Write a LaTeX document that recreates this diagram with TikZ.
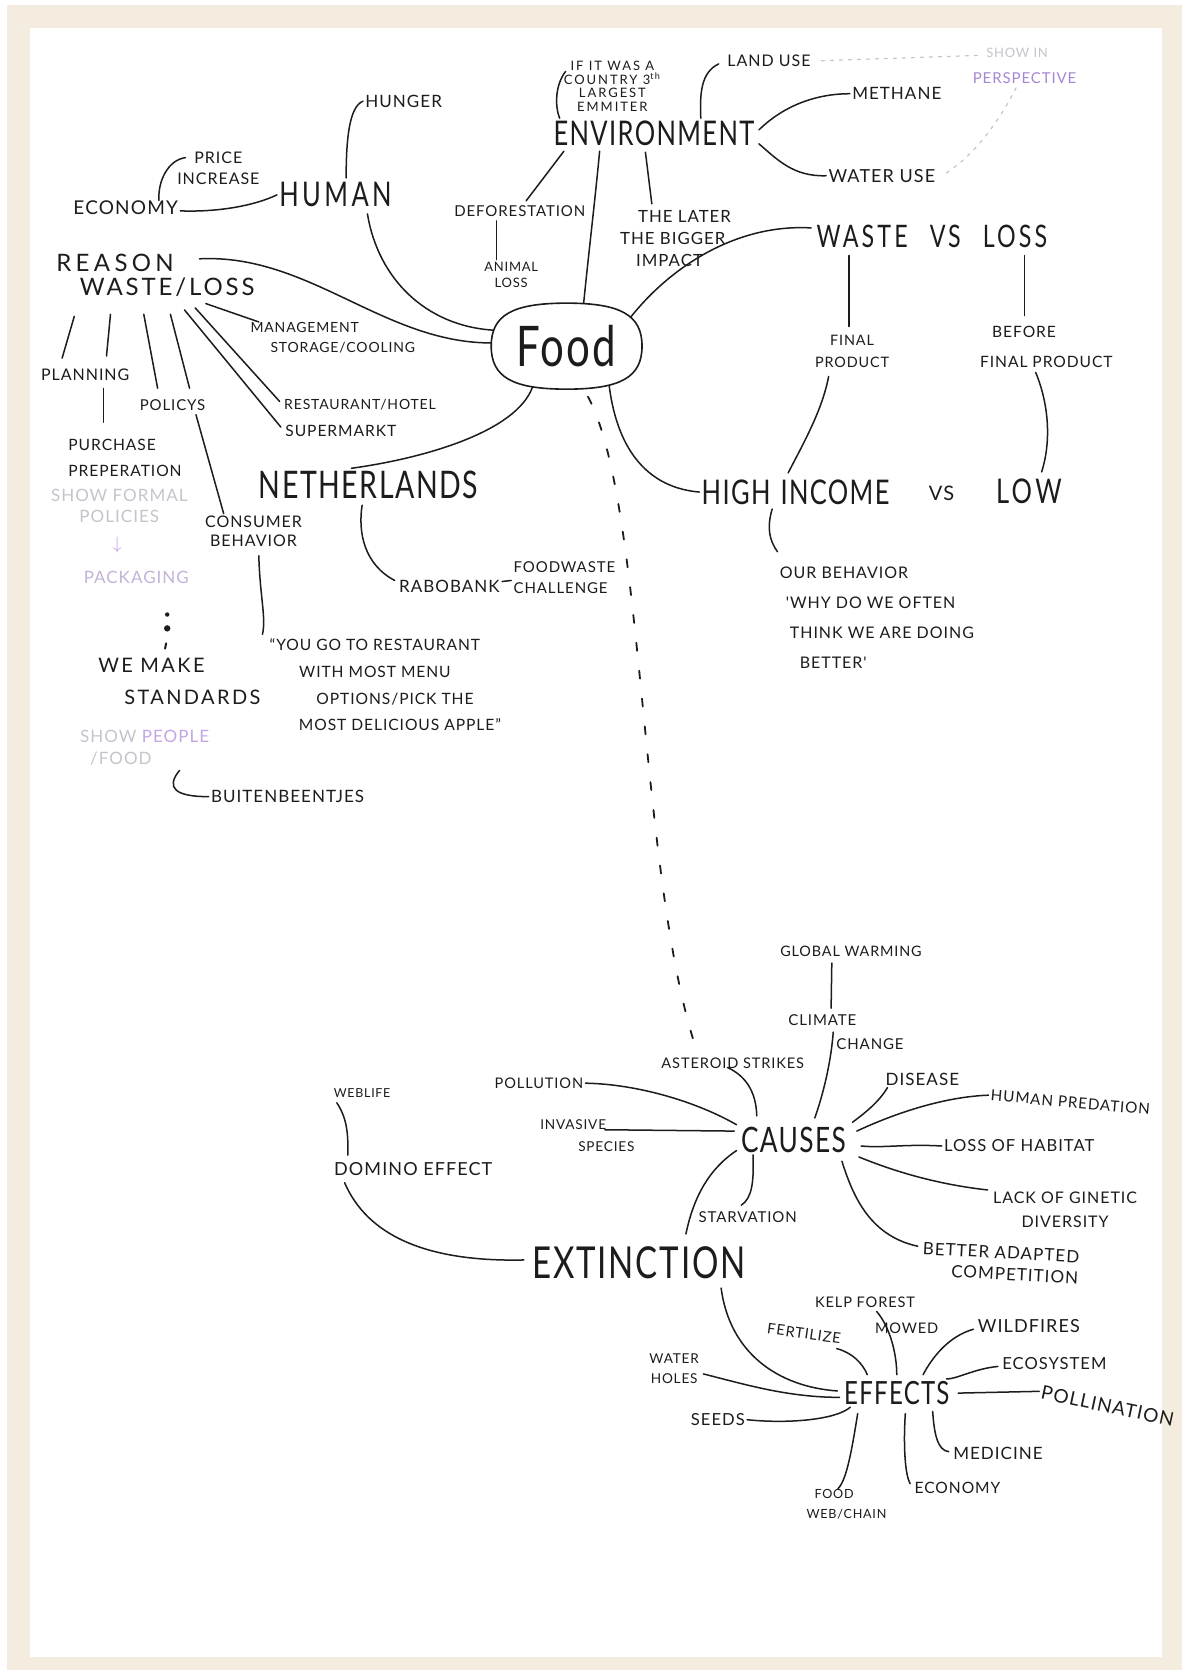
\documentclass[tikz,border=0pt]{standalone}
\usepackage{fontspec}
\usetikzlibrary{calc}
\newfontfamily\hand[LetterSpace=6]{Lato}
\newfontfamily\handn[FakeStretch=0.75,LetterSpace=4]{Lato}
\definecolor{paper}{RGB}{244,237,223}
\definecolor{ink}{RGB}{28,28,28}
\definecolor{fadegray}{RGB}{196,196,204}
\definecolor{fadepurple}{RGB}{196,166,226}
\definecolor{lilac}{RGB}{165,135,210}
\tikzset{
  fs/.style 2 args={font=\hand\fontsize{#1}{#2}\selectfont},
  ft/.style 2 args={font=\handn\fontsize{#1}{#2}\selectfont},
  spaced/.style n args={3}{font=\hand\addfontfeature{LetterSpace=#1}\fontsize{#2}{#3}\selectfont},
  spacedn/.style n args={3}{font=\handn\addfontfeature{LetterSpace=#1}\fontsize{#2}{#3}\selectfont},
  link/.style={draw=ink, line width=0.75pt, line cap=round},
  outline/.style={draw=ink, line width=0.8pt},
  faintlink/.style={draw=fadegray, line width=0.6pt, dash pattern=on 1.5pt off 3pt, line cap=round},
  bridge/.style={draw=ink, line width=0.9pt, dash pattern=on 4pt off 10pt, line cap=round},
}
\begin{document}
\begin{tikzpicture}[x=0.53245pt, y=-0.53245pt, every node/.style={text=ink, inner sep=1pt}]
\useasboundingbox (0,0) rectangle (1110,1568);
% paper and mount
\fill[paper] (0,0) rectangle (1110,1568);
\fill[white] (0,0) rectangle (1110,4.5);
\fill[white] (0,0) rectangle (6.5,1568);
\fill[white] (28.2,26.3) rectangle (1091.2,1556);

% ---------- upper map: food ----------
\node[ft={28}{30}, minimum width=75pt, minimum height=42.6pt, inner sep=0pt] (food) at (532,325) {Food};
% squarish oval round the central word
\draw[outline] (food.west)
  .. controls ($(food.west)!0.72!(food.north west)$) and ($(food.north)!0.72!(food.north west)$) .. (food.north)
  .. controls ($(food.north)!0.72!(food.north east)$) and ($(food.east)!0.72!(food.north east)$) .. (food.east)
  .. controls ($(food.east)!0.72!(food.south east)$) and ($(food.south)!0.72!(food.south east)$) .. (food.south)
  .. controls ($(food.south)!0.72!(food.south west)$) and ($(food.west)!0.72!(food.south west)$) .. (food.west) -- cycle;

\node[spaced={15}{6.5}{6.9}, align=center] (ifit) at (575,81) {IF IT WAS A\\COUNTRY 3\textsuperscript{th}\\LARGEST\\EMMITER};
\node[fs={8}{10}] (landuse) at (722,57) {LAND USE};
\node[fs={6.5}{8}, text=fadegray] (showin) at (955,50) {SHOW IN};
\node[fs={7.5}{9}, text=lilac] (persp) at (962,73) {PERSPECTIVE};
\node[fs={8.5}{10}] (methane) at (842,88) {METHANE};
\node[ft={17}{19}] (env) at (614,125) {ENVIRONMENT};
\node[fs={9}{10}] (wateruse) at (828,165) {WATER USE};
\node[fs={8.5}{10}] (hunger) at (379,95) {HUNGER};
\node[spacedn={10}{17}{19}] (human) at (315,183) {HUMAN};
\node[fs={8}{10.6}, align=center] (price) at (205,158) {PRICE\\INCREASE};
\node[fs={9.5}{11}] (economy) at (118,195) {ECONOMY};
\node[fs={7.5}{9}] (defor) at (488,198) {DEFORESTATION};
\node[fs={6.5}{8}, align=center] (animal) at (480,258) {ANIMAL\\LOSS};
\node[fs={8.4}{11}, align=left, anchor=west] (later) at (580,224) {\hspace*{9pt}THE LATER\\THE BIGGER\\\hspace*{8pt}IMPACT};
\node[spacedn={10}{15.5}{17}] (wvl) at (875,222) {WASTE\hspace{11pt}VS\hspace{11pt}LOSS};

\node[spaced={18}{12}{14}] (reason) at (108,247) {REASON};
\node[spaced={12}{12}{14}] (wastel) at (157,270) {WASTE/LOSS};
\node[fs={7}{10}, align=left, anchor=west] (mgmt) at (233,317) {MANAGEMENT\\\hspace*{10pt}STORAGE/COOLING};
\node[fs={8}{10}] (planning) at (80,352) {PLANNING};
\node[fs={7.5}{9}] (policys) at (162,380) {POLICYS};
\node[fs={7}{9}] (resto) at (338,380) {RESTAURANT/HOTEL};
\node[fs={7.8}{9}] (supermarkt) at (320,405) {SUPERMARKT};
\node[fs={7.8}{12.8}, align=left, anchor=west] (purchase) at (62,430) {PURCHASE\\PREPERATION};
\node[fs={8.5}{10.6}, align=center, text=fadegray] (showformal) at (112,475) {SHOW FORMAL\\POLICIES};
\node[font=\fontsize{9}{9}\selectfont, text=fadepurple] (downmark) at (110,512) {$\downarrow$};
\node[fs={8.5}{10}, text=fadepurple!60!fadegray] (packaging) at (128,542) {PACKAGING};
\node[spaced={12}{10}{16}, align=left, anchor=west] (wemake) at (90,640) {WE MAKE\\\hspace*{13pt}STANDARDS};
\node[fs={8.5}{10.6}, align=left, anchor=west] (showpeople) at (73,702) {{\color{fadegray}SHOW} {\color{fadepurple}PEOPLE}\\\hspace*{5pt}{\color{fadegray}/FOOD}};
\node[fs={8.5}{10}] (buiten) at (270,748) {BUITENBEENTJES};

\node[ft={19}{21}] (netherlands) at (346,455) {NETHERLANDS};
\node[fs={8}{9.6}, align=center] (consumer) at (238,499) {CONSUMER\\BEHAVIOR};
\node[fs={8.5}{10}] (rabobank) at (422,551) {RABOBANK};
\node[fs={7.5}{10.6}, align=left, anchor=west] (foodwaste) at (480,542) {FOODWASTE\\CHALLENGE};
\node[fs={7.8}{13.3}, align=center] (yougo) at (352,643) {“YOU GO TO RESTAURANT\\WITH MOST MENU\\\hspace*{20pt}OPTIONS/PICK THE\\\hspace*{25pt}MOST DELICIOUS APPLE”};

\node[fs={7.2}{11}, align=center] (final) at (800,330) {FINAL\\PRODUCT};
\node[fs={7.8}{15}, align=left, anchor=west] (before) at (918,326) {\hspace*{6pt}BEFORE\\FINAL PRODUCT};
\node[ft={17}{19}] (high) at (747,462) {HIGH\hspace{5pt}INCOME};
\node[fs={10}{12}] (vs) at (884,463) {VS};
\node[spacedn={10}{17}{19}] (low) at (966,461) {LOW};
\node[fs={8}{15}, align=left, anchor=west] (ourbeh) at (730,580) {OUR BEHAVIOR\\\hspace*{3pt}'WHY DO WE OFTEN\\\hspace*{5pt}THINK WE ARE DOING\\\hspace*{10pt}BETTER'};

% ---------- lower map: extinction ----------
\node[fs={7.2}{9}] (globalw) at (799,893) {GLOBAL WARMING};
\node[fs={7.5}{11.7}, align=left, anchor=west] (climate) at (738,969) {CLIMATE\\\hspace*{24pt}CHANGE};
\node[fs={7.3}{9}] (asteroid) at (688,998) {ASTEROID STRIKES};
\node[fs={7.3}{9}] (pollution) at (506,1017) {POLLUTION};
\node[fs={8.5}{10}] (disease) at (866,1013) {DISEASE};
\node[fs={7.6}{9}, rotate=-5] (humanpred) at (1005,1035) {HUMAN PREDATION};
\node[fs={6.2}{8}] (weblife) at (340,1026) {WEBLIFE};
\node[fs={6.8}{11}, align=left, anchor=west] (invasive) at (505,1066) {INVASIVE\\\hspace*{19pt}SPECIES};
\node[ft={17.5}{19}] (causes) at (745,1070) {CAUSES};
\node[fs={8.3}{10}] (lossh) at (957,1076) {LOSS OF HABITAT};
\node[fs={9}{11}] (domino) at (388,1098) {DOMINO EFFECT};
\node[fs={8}{11.7}, align=center] (lack) at (1000,1136) {LACK OF GINETIC\\DIVERSITY};
\node[fs={7.5}{9}] (starvation) at (702,1143) {STARVATION};
\node[ft={22}{24}] (extinction) at (600,1186) {EXTINCTION};
\node[fs={8.5}{10.6}, align=right, anchor=east, rotate=-3] (better) at (1015,1190) {BETTER ADAPTED\\COMPETITION};

\node[fs={7.3}{13.3}, align=left, anchor=west] (kelp) at (763,1235) {KELP FOREST\\\hspace*{30pt}MOWED};
\node[fs={7.3}{9}, rotate=-8] (fertilize) at (755,1252) {FERTILIZE};
\node[fs={9}{11}] (wildfires) at (966,1245) {WILDFIRES};
\node[fs={6.8}{10}, align=center] (water) at (633,1285) {WATER\\HOLES};
\node[fs={8.3}{10}] (ecosystem) at (990,1280) {ECOSYSTEM};
\node[ft={16}{18}] (effects) at (842,1308) {EFFECTS};
\node[fs={9.5}{11}, rotate=-12] (pollination) at (1040,1320) {POLLINATION};
\node[fs={8.3}{10}] (seeds) at (674,1333) {SEEDS};
\node[fs={8.5}{10}] (medicine) at (937,1365) {MEDICINE};
\node[fs={7.8}{9}] (economy2) at (899,1397) {ECONOMY};
\node[fs={6.3}{10}, align=left, anchor=west] (foodweb) at (755,1412) {\hspace*{4pt}FOOD\\WEB/CHAIN};

% ---------- connectors: food hub ----------
\draw[link] ($(food.north)+(16,0)$) .. controls (553,235) and (559,185) .. ($(env.south)+(-51,3)$);
\draw[link] ($(food.center)+(60,-27)$) .. controls (630,250) and (692,210) .. ($(wvl.west)+(-3,-8)$);
\draw[link] ($(reason.east)+(22,-4)$) .. controls (290,238) and (360,322) .. ($(food.west)+(0,-3)$);
\draw[link] ($(human.south)+(30,4)$) .. controls (355,262) and (400,306) .. ($(food.west)+(2,-15)$);
\draw[link] ($(food.south)+(-32,-2)$) .. controls (485,405) and (400,430) .. ($(netherlands.north)+(-16,0)$);
\draw[link] ($(food.south)+(40,-3)$) .. controls (580,425) and (610,458) .. (high.west);
\draw[bridge] ($(food.south)+(20,7)$) .. controls (605,470) and (600,820) .. ($(asteroid.north)+(-35,-8)$);

% environment branch
\draw[link] ($(env.north west)+(8,0)$) .. controls (521,100) and (521,80) .. ($(ifit.west)+(4,-14)$);
\draw[link] ($(env.north)+(44,0)$) .. controls (657,88) and (658,68) .. ($(landuse.west)+(-6,3)$);
\draw[link] ($(env.east)+(2,-3)$) .. controls (735,100) and (765,88) .. (methane.west);
\draw[link] ($(env.east)+(2,10)$) .. controls (730,150) and (745,166) .. (wateruse.west);
\draw[link] ($(env.south west)+(12,3)$) -- ($(defor.north)+(6,-2)$);
\draw[link] ($(env.south)+(-8,4)$) -- ($(later.north west)+(32,-4)$);
\draw[link] ($(defor.south)+(-22,2)$) -- ($(animal.north)+(-14,0)$);
\draw[faintlink] ($(landuse.east)+(8,0)$) -- ($(showin.west)+(-4,2)$);
\draw[faintlink] ($(persp.south)+(-8,2)$) .. controls (935,120) and (910,150) .. ($(wateruse.east)+(4,0)$);

% human branch
\draw[link] ($(human.north)+(10,-2)$) .. controls (325,130) and (328,100) .. (hunger.west);
\draw[link] (human.west) .. controls (232,196) and (195,199) .. ($(economy.east)+(0,3)$);
\draw[link] ($(economy.north east)+(-20,2)$) .. controls (148,170) and (158,150) .. ($(price.west)+(10,-10)$);

% reasons for waste and loss
\draw[link] ($(wastel.south west)+(-3,16)$) -- ($(planning.north west)+(22,-8)$);
\draw[link] ($(wastel.south west)+(31,14)$) -- ($(planning.north)+(20,-10)$);
\draw[link] ($(wastel.south)+(-22,14)$) -- ($(policys.north)+(-14,-8)$);
\draw[link] ($(wastel.south)+(3,14)$) -- ($(policys.north)+(16,-8)$);
\draw[link] ($(wastel.south east)+(-48,4)$) -- ($(mgmt.north west)+(10,2)$);
\draw[link] ($(wastel.south east)+(-58,8)$) -- ($(resto.west)+(-2,-3)$);
\draw[link] ($(wastel.south east)+(-68,10)$) -- ($(supermarkt.west)+(-2,-4)$);
\draw[link] ($(planning.south)+(17,5)$) -- ($(purchase.north west)+(35,-14)$);
\draw[link] ($(policys.south)+(22,2)$) -- ($(consumer.north)+(-28,0)$);
\draw[link] ($(consumer.south)+(5,6)$) .. controls (244,560) and (250,580) .. ($(yougo.north west)+(15,-2)$);
\fill[ink] (157,577) circle (1.1pt);
\fill[ink] (157,590) circle (1.6pt);
\draw[ink, line width=1pt, line cap=round] (156,604) -- (155,609);
\draw[link] ($(showpeople.south east)+(-30,3)$) .. controls (155,740) and (165,748) .. (buiten.west);

% netherlands branch
\draw[link] ($(netherlands.south)+(-6,4)$) .. controls (336,500) and (342,530) .. ($(rabobank.west)+(-2,-6)$);
\draw[link] ($(rabobank.east)+(0,-5)$) -- ($(foodwaste.west)+(0,3)$);

% waste vs loss, income
\draw[link] ($(wvl.south)+(-78,5)$) -- ($(final.north)+(-3,-6)$);
\draw[link] ($(wvl.south)+(87,5)$) -- ($(before.north west)+(44,-8)$);
\draw[link] ($(final.south)+(-22,6)$) .. controls (772,385) and (755,415) .. ($(high.north)+(-7,-4)$);
\draw[link] ($(before.south)+(-10,2)$) .. controls (985,380) and (987,415) .. ($(low.north)+(12,-4)$);
\draw[link] ($(high.south)+(-22,2)$) .. controls (720,495) and (722,507) .. ($(ourbeh.north west)+(0,-12)$);

% ---------- connectors: causes ----------
\draw[link] ($(globalw.south)+(-18,4)$) -- ($(climate.north)+(-14,-4)$);
\draw[link] ($(climate.center)+(-12,0)$) .. controls (780,1000) and (772,1030) .. ($(causes.north)+(20,-6)$);
\draw[link] ($(asteroid.south)+(-5,-3)$) .. controls (700,1010) and (710,1025) .. ($(causes.north west)+(17,-8)$);
\draw[link] (pollution.east) .. controls (600,1018) and (655,1035) .. ($(causes.west)+(-2,-14)$);
\draw[link] ($(invasive.north west)+(63,12)$) -- ($(causes.west)+(-4,-8)$);
\draw[link] ($(causes.south west)+(-2,-4)$) .. controls (662,1100) and (650,1130) .. ($(extinction.north)+(44,-10)$);
\draw[link] ($(causes.south)+(-38,0)$) .. controls (708,1110) and (706,1125) .. ($(starvation.north)+(-6,-4)$);
\draw[link] ($(disease.south west)+(4,0)$) .. controls (825,1035) and (812,1045) .. ($(causes.north east)+(4,-2)$);
\draw[link] (humanpred.west) .. controls (880,1030) and (830,1050) .. ($(causes.east)+(8,-8)$);
\draw[link] (lossh.west) .. controls (850,1074) and (830,1078) .. ($(causes.east)+(12,6)$);
\draw[link] ($(lack.north west)+(-3,0)$) .. controls (880,1112) and (840,1100) .. ($(causes.south east)+(10,2)$);
\draw[link] ($(better.north west)+(-3,6)$) .. controls (815,1160) and (800,1120) .. ($(causes.south east)+(-6,6)$);
\draw[link] ($(weblife.south west)+(5,3)$) .. controls (326,1050) and (327,1065) .. ($(domino.north west)+(15,-5)$);
\draw[link] ($(domino.south west)+(12,4)$) .. controls (345,1160) and (400,1185) .. ($(extinction.west)+(-6,-3)$);

% ---------- connectors: effects ----------
\draw[link] ($(extinction.south east)+(-25,6)$) .. controls (685,1270) and (730,1302) .. ($(effects.west)+(-4,-2)$);
\draw[link] ($(water.east)+(2,5)$) .. controls (700,1300) and (740,1312) .. ($(effects.west)+(-2,4)$);
\draw[link] (seeds.east) .. controls (740,1337) and (785,1333) .. ($(effects.south west)+(8,0)$);
\draw[link] ($(fertilize.south east)+(-5,2)$) .. controls (800,1270) and (810,1280) .. ($(effects.north west)+(24,-4)$);
\draw[link] ($(kelp.north west)+(60,16)$) .. controls (835,1245) and (842,1270) .. ($(effects.north)+(0,-4)$);
\draw[link] ($(wildfires.west)+(-2,3)$) .. controls (890,1255) and (875,1275) .. ($(effects.north east)+(-27,-4)$);
\draw[link] ($(ecosystem.west)+(-2,3)$) .. controls (915,1285) and (898,1295) .. ($(effects.north east)+(-5,0)$);
\draw[link] ($(effects.east)+(6,0)$) -- (pollination.west);
\draw[link] ($(effects.south east)+(-18,4)$) .. controls (877,1345) and (880,1362) .. ($(medicine.west)+(-2,-2)$);
\draw[link] ($(effects.south)+(8,6)$) .. controls (848,1360) and (850,1385) .. ($(economy2.west)+(-2,-4)$);
\draw[link] ($(effects.south west)+(15,6)$) .. controls (800,1360) and (795,1390) .. ($(foodweb.north)+(-8,2)$);
\end{tikzpicture}
\end{document}
